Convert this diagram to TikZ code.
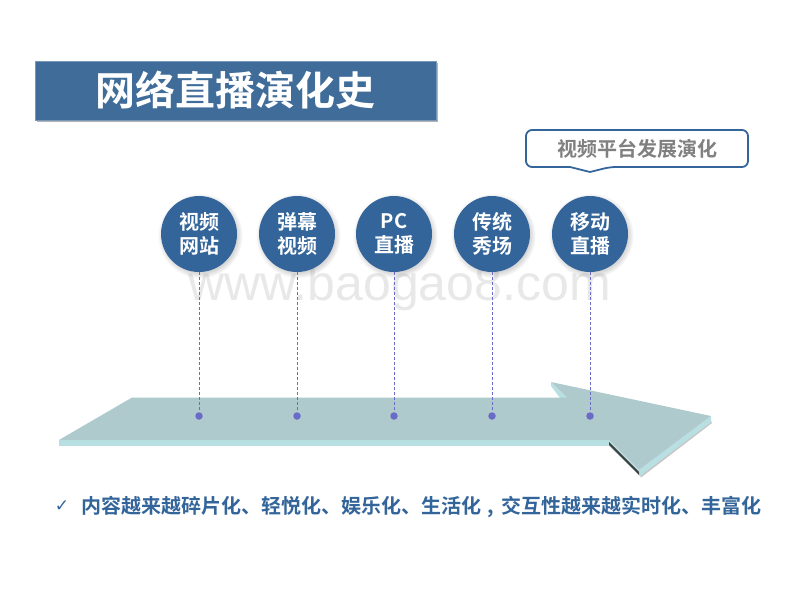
\documentclass[tikz,border=0pt]{standalone}
\usepackage{fontspec}
\newfontfamily\cjkbold{Noto Sans CJK SC Bold}
\newfontfamily\marksfont{DejaVu Sans}
\setmainfont{Liberation Sans}
\usepackage{tikz}
\usetikzlibrary{shadows}
\definecolor{titleblue}{HTML}{3F6C99}
\definecolor{ballblue}{HTML}{33659A}
\definecolor{arrowtop}{HTML}{AFCACD}
\definecolor{arrowside}{HTML}{B8E0E2}
\definecolor{dashblue}{HTML}{6A6AC8}
\tikzstyle{ball}=[circle,fill=ballblue,minimum size=76pt,inner sep=0pt,text=white,align=center,font=\cjkbold\fontsize{20}{24}\selectfont,circular drop shadow={shadow scale=1.12,shadow xshift=1pt,shadow yshift=-1.5pt,opacity=0.33}]
\tikzstyle{stop}=[circle,fill=dashblue,minimum size=7.5pt,inner sep=0pt]
\tikzstyle{link}=[dashblue,densely dashed,line width=1pt]
\begin{document}
\begin{tikzpicture}[x=1pt,y=-1pt]
      \useasboundingbox (0,0) rectangle (800,600);

      % watermark
      \node[text=black!9,font=\fontsize{50}{58}\selectfont] (mark) at (399.5,288) {www.baogao8.com};

      % title
      \fill[black!30] (37,63) rectangle (437.5,122);
      \node[fill=titleblue,draw=titleblue!70!white,line width=0.5pt,minimum width=400.5pt,minimum height=58.5pt,inner sep=0pt,text=white,font=\cjkbold\fontsize{40}{48}\selectfont] (title) at (235.5,90.5) {网络直播演化史};

      % callout
      \draw[draw=ballblue,line width=1.8pt,rounded corners=6pt] (526,130) -- (748,130) -- (748,167) -- (610,167) [sharp corners] -- (590,172) -- (570,167) [rounded corners=6pt] -- (526,167) -- cycle;
      \node[text=black!50,font=\cjkbold\fontsize{20}{24}\selectfont] (callout) at (637,148.5) {视频平台发展演化};

      % arrow sides
      \fill[arrowside] (59,440) -- (609,440) -- (609,446) -- (59,446) -- cycle;
      \fill[black!22] (641,477.5) -- (712,423) -- (711,421) -- (639,474) -- cycle;
      \fill[arrowside] (639,470) -- (711,416) -- (711,422) -- (640,476) -- cycle;
      \fill[arrowside] (609,440) -- (639,470) -- (640,476) -- (609,446) -- cycle;
      \fill[black!75] (609,442) -- (639,472) -- (639,475) -- (609,445) -- cycle;
      \fill[arrowside] (551,382) -- (567,398) -- (560,398) -- (551,386) -- cycle;
      % arrow top
      \fill[arrowtop] (59,440) -- (132,397.5) -- (567,397.5) -- (551,382) -- (711,416) -- (639,470) -- (609,440) -- cycle;

      \node[ball] (video) at (199,234) {视频\\网站};
      \node[ball] (danmu) at (297,234) {弹幕\\视频};
      \node[ball] (pc) at (394,234) {PC\\直播};
      \node[ball] (show) at (492,234) {传统\\秀场};
      \node[ball] (mobile) at (590,234) {移动\\直播};

      \node[stop] (s1) at (199,416) {};
      \node[stop] (s2) at (297,416) {};
      \node[stop] (s3) at (394,416) {};
      \node[stop] (s4) at (492,416) {};
      \node[stop] (s5) at (590,416) {};

      \draw[link] (video) -- (s1);
      \draw[link] (danmu) -- (s2);
      \draw[link] (pc) -- (s3);
      \draw[link] (show) -- (s4);
      \draw[link] (mobile) -- (s5);

      % bottom line
      \node[text=ballblue,font=\marksfont\fontsize{17}{20}\selectfont] (tick) at (62,506) {✓};
      \node[text=ballblue,font=\cjkbold\fontsize{20}{24}\selectfont,anchor=west,inner sep=0pt] (summary) at (81,507) {内容越来越碎片化、轻悦化、娱乐化、生活化\makebox[20pt]{,}交互性越来越实时化、丰富化};

    \end{tikzpicture}
\end{document}
